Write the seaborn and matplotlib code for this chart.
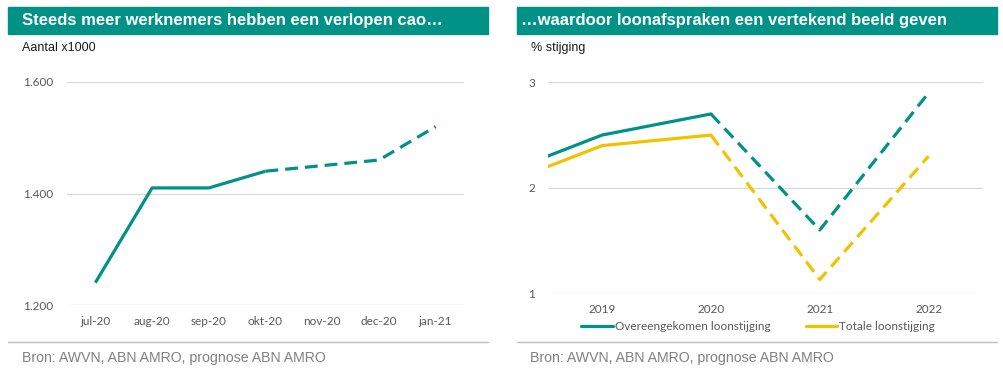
import matplotlib
matplotlib.use("Agg")
import matplotlib.pyplot as plt
from matplotlib.patches import Rectangle
from matplotlib.lines import Line2D
import matplotlib.ticker as mticker
import seaborn as sns
import pandas as pd

# ---------------- data ----------------
months = ["jul-20", "aug-20", "sep-20", "okt-20", "nov-20", "dec-20", "jan-21"]
cao_verlopen = [1240, 1410, 1410, 1440, 1450, 1460, 1520]
last_actual_idx = 3  # okt-20: afterwards prognose

years = [2018, 2019, 2020, 2021, 2022]
overeengekomen = [2.1, 2.5, 2.7, 1.6, 2.9]
totale = [2.0, 2.4, 2.5, 1.13, 2.3]
last_actual_year = 2020

left_yticks = [1200, 1400, 1600]
right_yticks = [1, 2, 3]

title_left = "Steeds meer werknemers hebben een verlopen cao…"
title_right = "…waardoor loonafspraken een vertekend beeld geven"
unit_left = "Aantal x1000"
unit_right = "% stijging"
source = "Bron: AWVN, ABN AMRO, prognose ABN AMRO"
series_names = ["Overeengekomen loonstijging", "Totale loonstijging"]

# ---------------- style ----------------
sns.set_theme(style="white")
plt.rcParams["font.family"] = ["Liberation Sans", "DejaVu Sans"]

TEAL = "#009286"
YELLOW = "#F2C100"
GRID = "#D9D9D9"
TICK = "#595959"
LW = 2.3
DASH = (4, 2.2)
TICKFONT = ["Lato", "DejaVu Sans"]

W, H = 1004, 378
fig = plt.figure(figsize=(W / 100, H / 100), dpi=100)
fig.patch.set_facecolor("white")


def fx(px):
    return px / W


def fy(py):
    return 1 - py / H


# ---------------- left chart ----------------
dfl = pd.DataFrame({"pos": list(range(len(months))), "val": cao_verlopen})
axl = fig.add_axes([fx(67), fy(305), fx(464 - 67), (305 - 82) / H])
sns.lineplot(data=dfl.iloc[: last_actual_idx + 1], x="pos", y="val", ax=axl,
             color=TEAL, lw=LW, solid_capstyle="butt")
sns.lineplot(data=dfl.iloc[last_actual_idx:], x="pos", y="val", ax=axl,
             color=TEAL, lw=LW, linestyle="--")
axl.lines[-1].set_dashes(DASH)
axl.set_xlim(-0.5, len(months) - 0.5)
axl.set_ylim(1200, 1600)
axl.set_xticks(range(len(months)))
axl.set_xticklabels(months)
axl.set_yticks(left_yticks)
axl.yaxis.set_major_formatter(mticker.FuncFormatter(lambda v, p: f"{int(v):,}".replace(",", ".")))
axl.tick_params(axis="x", length=0, pad=8, labelsize=8.5, labelcolor=TICK)
axl.tick_params(axis="y", length=0, pad=10, labelsize=8.5, labelcolor=TICK)
for t in axl.get_xticklabels() + axl.get_yticklabels():
    t.set_family(TICKFONT)

# ---------------- right chart ----------------
dfr = pd.DataFrame({"year": years, "a": overeengekomen, "b": totale})
axr = fig.add_axes([fx(547.7), fy(293.3), fx(983 - 547.7), (293.3 - 82.3) / H])
act = dfr[dfr["year"] <= last_actual_year]
prog = dfr[dfr["year"] >= last_actual_year]
sns.lineplot(data=act, x="year", y="b", ax=axr, color=YELLOW, lw=LW)
sns.lineplot(data=act, x="year", y="a", ax=axr, color=TEAL, lw=LW)
sns.lineplot(data=prog, x="year", y="b", ax=axr, color=YELLOW, lw=LW, linestyle="--")
axr.lines[-1].set_dashes(DASH)
sns.lineplot(data=prog, x="year", y="a", ax=axr, color=TEAL, lw=LW, linestyle="--")
axr.lines[-1].set_dashes(DASH)
axr.set_xlim(years[1] - 0.5, years[-1] + 0.5)
axr.set_ylim(1, 3)
axr.set_xticks(years[1:])
axr.set_xticklabels([str(y) for y in years[1:]])
axr.set_yticks(right_yticks)
axr.tick_params(axis="x", length=0, pad=8, labelsize=8.5, labelcolor=TICK)
axr.tick_params(axis="y", length=0, pad=9, labelsize=8.5, labelcolor=TICK)
for t in axr.get_xticklabels() + axr.get_yticklabels():
    t.set_family(TICKFONT)

handles = [Line2D([], [], color=TEAL, lw=LW), Line2D([], [], color=YELLOW, lw=LW)]
leg = axr.legend(handles, series_names, loc="center", bbox_to_anchor=(0.483, -0.158),
                 ncol=2, frameon=False, handlelength=2.7, handletextpad=0.15,
                 columnspacing=3.0, prop={"family": TICKFONT, "size": 8.5})
for t in leg.get_texts():
    t.set_color(TICK)

for ax in (axl, axr):
    ax.set_xlabel("")
    ax.set_ylabel("")
    for s in ax.spines.values():
        s.set_visible(False)
    ax.grid(axis="y", color=GRID, lw=0.9)
    ax.grid(axis="x", visible=False)
    ax.set_axisbelow(True)
    ax.set_facecolor("white")

# ---------------- title bars, units, sources ----------------
for x0, x1, txt in [(8, 488, title_left), (517, 997, title_right)]:
    fig.patches.append(Rectangle((fx(x0), fy(34)), fx(x1 - x0), 27 / H,
                                 transform=fig.transFigure, color=TEAL, zorder=0))
    fig.text(fx(x0 + 14.5 if x0 == 8 else x0 + 4.5), fy(20.5), txt, color="white",
             fontsize=12, fontweight="bold", va="center", ha="left")
    fig.add_artist(Line2D([fx(x0), fx(x1)], [fy(342), fy(342)],
                          transform=fig.transFigure, color="#BFBFBF", lw=1))

fig.text(fx(22), fy(48), unit_left, fontsize=9, color="#1a1a1a", va="center", ha="left")
fig.text(fx(531.5), fy(48), unit_right, fontsize=9, color="#1a1a1a", va="center", ha="left")
for x0 in (22.5, 530):
    fig.text(fx(x0), fy(358), source, fontsize=10.2, color="#808080", va="center", ha="left")

fig.savefig("out.png", dpi=100, facecolor="white")
